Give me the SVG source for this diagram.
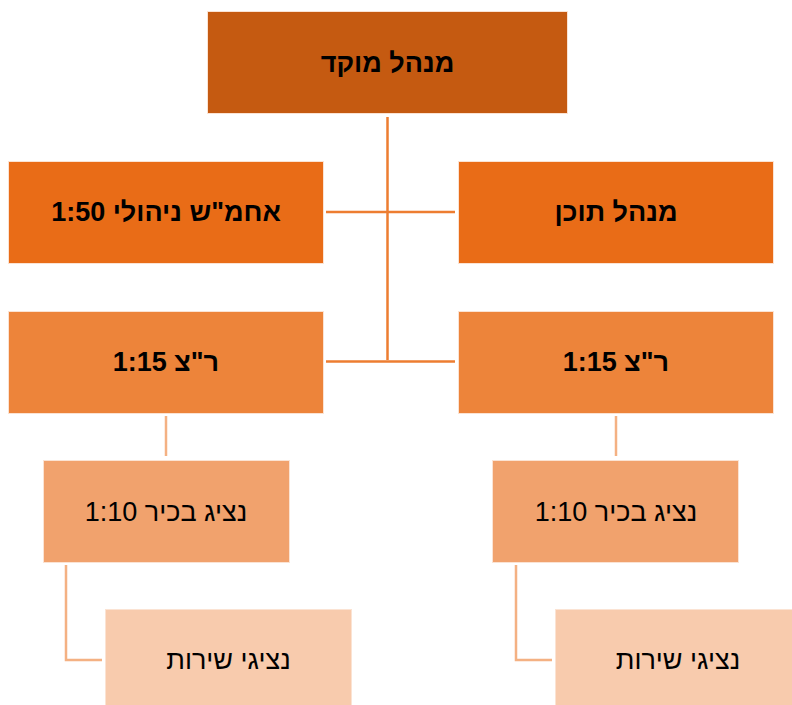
<svg xmlns="http://www.w3.org/2000/svg" width="792" height="705" viewBox="0 0 792 705">
<style>
text{font-family:"Liberation Sans",Arial,"DejaVu Sans",sans-serif;font-size:27px;fill:#000;text-anchor:middle;direction:rtl;unicode-bidi:embed}
.b{font-weight:bold}
.l1{fill:#C55A11}
.l2{fill:#E96C17}
.l3{fill:#ED843A}
.l4{fill:#F1A26D}
.l5{fill:#F8CBAD}
.box{stroke:#FBE3D3;stroke-width:1}
.c1{stroke:#ED7D31;stroke-width:2.5;fill:none}
.c2{stroke:#F4B183;stroke-width:2.5;fill:none}
</style>
<rect width="792" height="705" fill="#fff"/>
<g id="connectors">
<path class="c1" d="M387.5 117V360"/>
<path class="c1" d="M326 212H455"/>
<path class="c1" d="M326 361.5H455"/>
<path class="c2" d="M166 416V456"/>
<path class="c2" d="M616 416V456"/>
<path class="c2" d="M66 565V660H102"/>
<path class="c2" d="M516 565V660H552"/>
</g>
<g id="n-top"><rect class="box l1" x="207.5" y="11.5" width="360" height="102"/><text class="b" x="387.5" y="72">מנהל מוקד</text></g>
<g id="n-ahmash"><rect class="box l2" x="8.5" y="161.5" width="315" height="102"/><text class="b" x="166" y="221">אחמ"ש ניהולי 1:50</text></g>
<g id="n-content"><rect class="box l2" x="458.5" y="161.5" width="315" height="102"/><text class="b" x="616" y="221">מנהל תוכן</text></g>
<g id="n-rz-left"><rect class="box l3" x="8.5" y="311.5" width="315" height="102"/><text class="b" x="166" y="371">ר"צ 1:15</text></g>
<g id="n-rz-right"><rect class="box l3" x="458.5" y="311.5" width="315" height="102"/><text class="b" x="616" y="371">ר"צ 1:15</text></g>
<g id="n-senior-left"><rect class="box l4" x="43.5" y="460.5" width="246" height="102"/><text x="166" y="521">נציג בכיר 1:10</text></g>
<g id="n-senior-right"><rect class="box l4" x="492.5" y="460.5" width="246" height="102"/><text x="616" y="521">נציג בכיר 1:10</text></g>
<g id="n-service-left"><rect class="box l5" x="105.5" y="609.5" width="246" height="102"/><text x="228.5" y="669">נציגי שירות</text></g>
<g id="n-service-right"><rect class="box l5" x="555.5" y="609.5" width="246" height="102"/><text x="678" y="669">נציגי שירות</text></g>
</svg>
